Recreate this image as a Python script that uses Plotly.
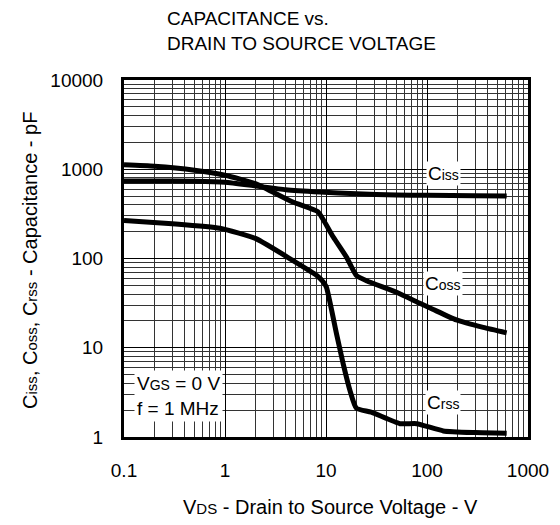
import plotly.graph_objects as go
import numpy as np

# ---- data ----
ciss_v = [0.1, 0.2, 0.5, 1, 2, 4, 8.7, 20, 50, 100, 300, 615]
ciss_c = [740, 740, 735, 715, 650, 590, 556, 530, 515, 510, 505, 500]

coss_v = [0.1, 0.2, 0.5, 1, 2, 4.7, 8.3, 9.4, 11.8, 16, 20, 25.5, 50, 85, 114, 195, 360, 615]
coss_c = [1120, 1080, 975, 857, 690, 429, 335, 272, 174, 103, 64.5, 56, 41.9, 31.5, 27, 20.5, 16.9, 14.7]

crss_v = [0.1, 0.3, 0.89, 2, 4.7, 8.1, 9.4, 10.1, 12.7, 14.8, 17.3, 20, 28, 54, 79, 145, 300, 615]
crss_c = [267, 245, 218, 168, 95, 64.5, 54.6, 47.6, 14.4, 6.6, 3.3, 2.1, 1.9, 1.41, 1.41, 1.17, 1.12, 1.1]

x_ticks = [0.1, 1, 10, 100, 1000]
x_tick_text = ["0.1", "1", "10", "100", "1000"]
y_ticks = [1, 10, 100, 1000, 10000]
y_tick_text = ["1", "10", "100", "1000", "10000"]

FONT = "Liberation Sans, Arial, sans-serif"
FS = 19


def sub(s, size=14):
    return f"<span style='font-size:{size}px'>{s}</span>"


fig = go.Figure()
for xs, ys in [(ciss_v, ciss_c), (coss_v, coss_c), (crss_v, crss_c)]:
    fig.add_trace(go.Scatter(x=xs, y=ys, mode="lines",
                             line=dict(color="black", width=5, shape="spline", smoothing=0.5),
                             showlegend=False, hoverinfo="skip"))

minor_x = [m * 10.0 ** e for e in range(-1, 3) for m in range(2, 10)]
minor_y = [m * 10.0 ** e for e in range(0, 4) for m in range(2, 10)]

fig.update_xaxes(type="log", range=[-1, 3], tickvals=x_ticks, ticktext=x_tick_text,
                 showgrid=True, gridcolor="black", gridwidth=1,
                 minor=dict(tickvals=minor_x, showgrid=True, gridcolor="#333", gridwidth=1, ticks=""),
                 showline=True, mirror=True, linecolor="black", linewidth=3,
                 ticks="", ticklabelstandoff=14, zeroline=False,
                 tickfont=dict(family=FONT, size=FS, color="black"))
fig.update_yaxes(type="log", range=[0, 4], tickvals=y_ticks, ticktext=y_tick_text,
                 showgrid=True, gridcolor="black", gridwidth=1,
                 minor=dict(tickvals=minor_y, showgrid=True, gridcolor="#333", gridwidth=1, ticks=""),
                 showline=True, mirror=True, linecolor="black", linewidth=3,
                 ticks="", ticklabelstandoff=14, zeroline=False,
                 tickfont=dict(family=FONT, size=FS, color="black"))

ann = []
# title
ann.append(dict(text="CAPACITANCE vs.<br>DRAIN TO SOURCE VOLTAGE", xref="paper", yref="paper",
                x=0.1015, y=1.207, xanchor="left", yanchor="top", align="left", showarrow=False,
                font=dict(family=FONT, size=FS, color="black")))
# axis titles
ann.append(dict(text="V" + sub("DS", 15) + " - Drain to Source Voltage - V", xref="paper", yref="paper",
                x=0.51, y=-0.196, xanchor="center", yanchor="middle", showarrow=False,
                font=dict(family=FONT, size=20, color="black")))
ann.append(dict(text="C" + sub("iss", 15) + ", C" + sub("oss", 15) + ", C" + sub("rss", 15) + " - Capacitance - pF",
                xref="paper", yref="paper", x=-0.2327, y=0.496, xanchor="center", yanchor="middle",
                textangle=-90, showarrow=False, font=dict(family=FONT, size=20, color="black")))
# curve labels
for lbl, xv, yv in [("iss", 145, 900), ("oss", 145, 52.5), ("rss", 145, 2.45)]:
    ann.append(dict(text="C" + sub(lbl, 14), x=np.log10(xv), y=np.log10(yv), xref="x", yref="y",
                    showarrow=False, bgcolor="white", borderpad=1,
                    font=dict(family=FONT, size=FS, color="black")))
# conditions
ann.append(dict(text="V" + sub("GS", 14) + " = 0 V<br>f = 1 MHz", x=np.log10(0.126), y=np.log10(2.9),
                xref="x", yref="y", xanchor="left", yanchor="middle", align="left",
                showarrow=False, bgcolor="white", borderpad=2,
                font=dict(family=FONT, size=FS, color="black")))

fig.update_layout(width=560, height=525, margin=dict(l=124, r=32, t=80, b=88),
                  paper_bgcolor="white", plot_bgcolor="white", annotations=ann,
                  font=dict(family=FONT, color="black"))
fig.write_html("out.html")
